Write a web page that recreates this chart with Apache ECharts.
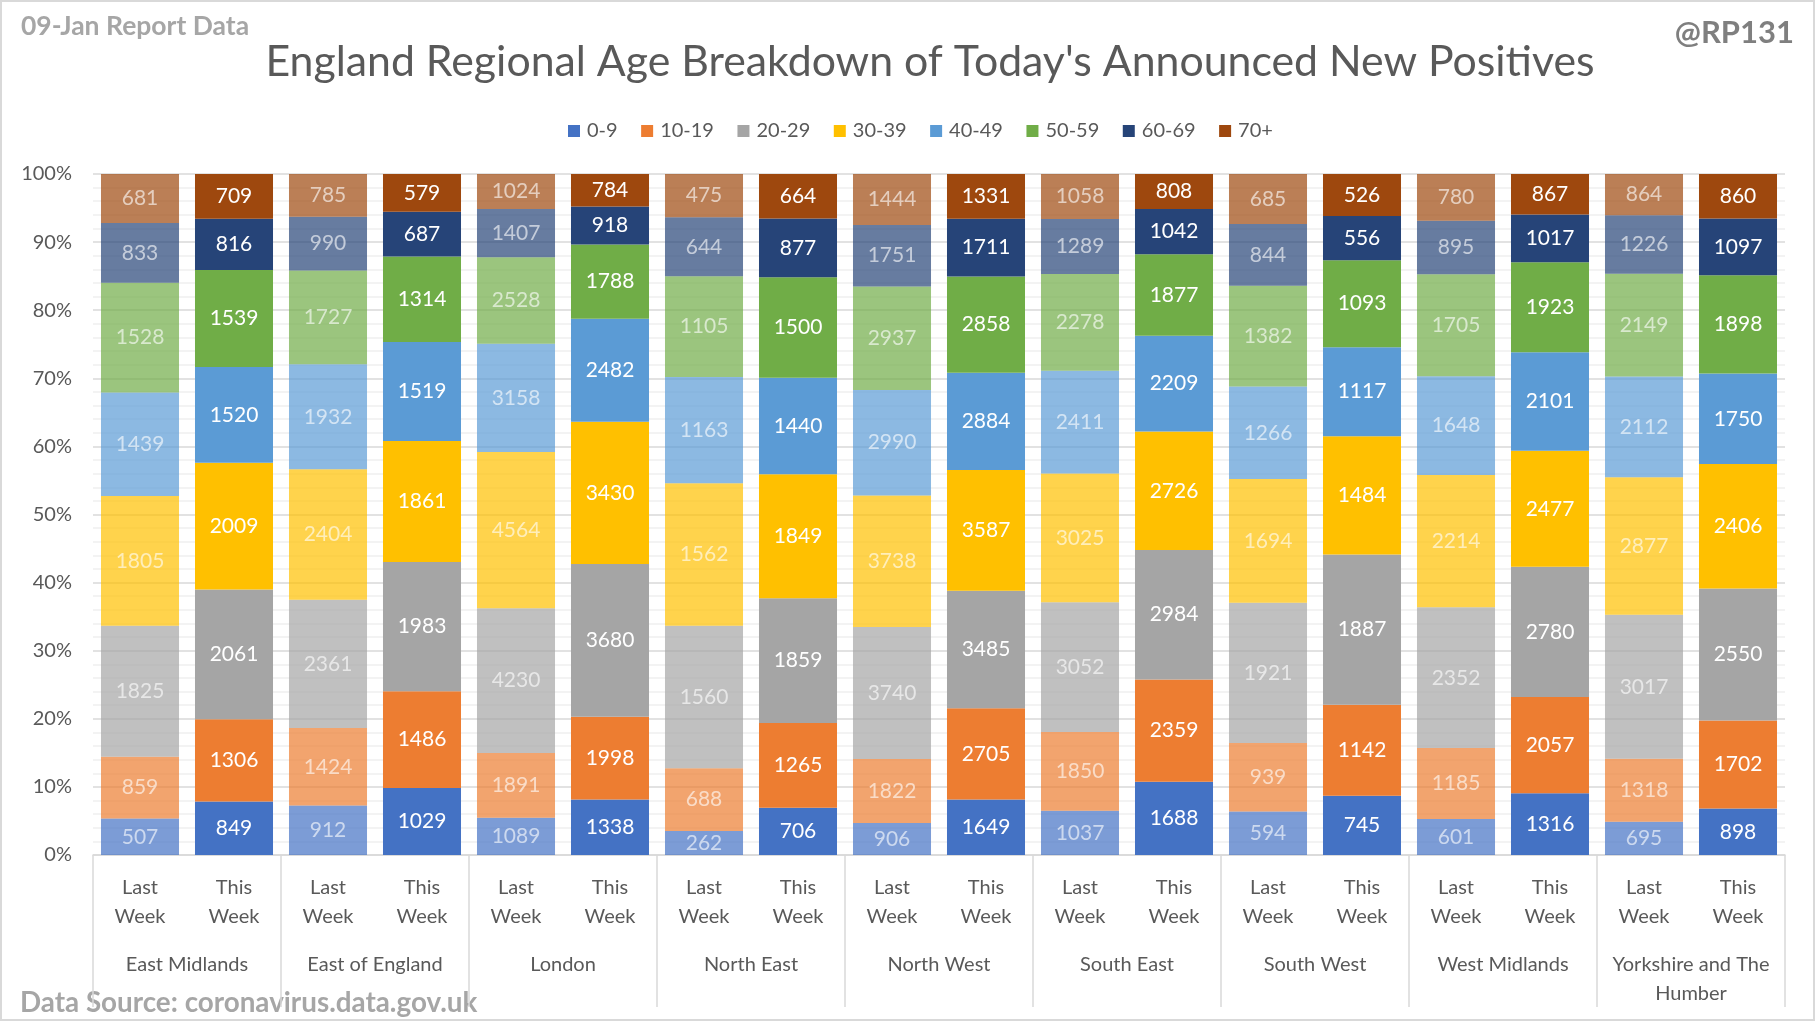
<!DOCTYPE html>
<html>
<head>
<meta charset="utf-8">
<script src="https://cdn.jsdelivr.net/npm/echarts@6/dist/echarts.min.js"></script>
<style>
html,body{margin:0;padding:0;background:#fff;}
#chart{width:1816px;height:1022px;}
</style>
</head>
<body>
<div id="chart"></div>
<script>
// Bars in order: each region, Last Week then This Week
const regions = ['East Midlands','East of England','London','North East','North West','South East','South West','West Midlands','Yorkshire and The\nHumber'];
const weeks = ['Last\nWeek','This\nWeek'];
const ageGroups = ['0-9','10-19','20-29','30-39','40-49','50-59','60-69','70+'];
const colors = ['#4472C4','#ED7D31','#A5A5A5','#FFC000','#5B9BD5','#70AD47','#264478','#9E480E'];

const age0_9   = [507, 849, 912, 1029, 1089, 1338, 262, 706, 906, 1649, 1037, 1688, 594, 745, 601, 1316, 695, 898];
const age10_19 = [859, 1306, 1424, 1486, 1891, 1998, 688, 1265, 1822, 2705, 1850, 2359, 939, 1142, 1185, 2057, 1318, 1702];
const age20_29 = [1825, 2061, 2361, 1983, 4230, 3680, 1560, 1859, 3740, 3485, 3052, 2984, 1921, 1887, 2352, 2780, 3017, 2550];
const age30_39 = [1805, 2009, 2404, 1861, 4564, 3430, 1562, 1849, 3738, 3587, 3025, 2726, 1694, 1484, 2214, 2477, 2877, 2406];
const age40_49 = [1439, 1520, 1932, 1519, 3158, 2482, 1163, 1440, 2990, 2884, 2411, 2209, 1266, 1117, 1648, 2101, 2112, 1750];
const age50_59 = [1528, 1539, 1727, 1314, 2528, 1788, 1105, 1500, 2937, 2858, 2278, 1877, 1382, 1093, 1705, 1923, 2149, 1898];
const age60_69 = [833, 816, 990, 687, 1407, 918, 644, 877, 1751, 1711, 1289, 1042, 844, 556, 895, 1017, 1226, 1097];
const age70p   = [681, 709, 785, 579, 1024, 784, 475, 664, 1444, 1331, 1058, 808, 685, 526, 780, 867, 864, 860];

const yTicks = [0,10,20,30,40,50,60,70,80,90,100];

const raw = [age0_9, age10_19, age20_29, age30_39, age40_49, age50_59, age60_69, age70p];
const barLabels = [];
regions.forEach(() => weeks.forEach(w => barLabels.push(w)));
const totals = barLabels.map((_, i) => raw.reduce((s, a) => s + a[i], 0));

const FONT = 'Lato';
const series = raw.map((arr, si) => ({
  name: ageGroups[si],
  type: 'bar',
  stack: 'total',
  barCategoryGap: '17%',
  itemStyle: { color: colors[si] },
  label: {
    show: true, position: 'inside', fontFamily: FONT, fontSize: 21, color: '#ffffff',
    formatter: p => String(arr[p.dataIndex])
  },
  emphasis: { disabled: true },
  data: arr.map((v, i) => {
    const isLast = i % 2 === 0;
    const d = { value: v / totals[i] * 100 };
    if (isLast) {
      d.itemStyle = { opacity: 0.7 };
      d.label = { color: 'rgba(255,255,255,0.88)' };
    }
    return d;
  })
}));

const chart = echarts.init(document.getElementById('chart'), null, { renderer: 'canvas' });
chart.setOption({
  animation: false,
  backgroundColor: '#ffffff',
  textStyle: { fontFamily: FONT },
  legend: {
    top: 116, left: 563, itemWidth: 12, itemHeight: 12, itemGap: 23.5, icon: 'rect',
    textStyle: { fontFamily: FONT, fontSize: 20, color: '#595959', padding: [0,0,0,2] },
    data: ageGroups
  },
  grid: { left: 93, right: 31, top: 174, bottom: 167, containLabel: false },
  xAxis: [
    {
      type: 'category', data: barLabels, position: 'bottom',
      axisLine: { show: true, lineStyle: { color: '#d9d9d9', width: 1.5 } },
      axisTick: { show: false },
      axisLabel: { interval: 0, margin: 18, fontFamily: FONT, fontSize: 20, lineHeight: 29, color: '#595959' }
    },
    {
      type: 'category', data: regions, position: 'bottom', offset: 0,
      axisLine: { show: false },
      axisTick: { show: true, length: 152, interval: 0, lineStyle: { color: '#d9d9d9', width: 1.5 } },
      axisLabel: { interval: 0, margin: 95, fontFamily: FONT, fontSize: 20, lineHeight: 29, color: '#595959' }
    }
  ],
  yAxis: {
    type: 'value', min: yTicks[0], max: yTicks[yTicks.length - 1], interval: 10,
    axisLine: { show: false }, axisTick: { show: false },
    axisLabel: { formatter: '{value}%', fontFamily: FONT, fontSize: 20, color: '#595959', margin: 21 },
    splitLine: { show: true, lineStyle: { color: '#d9d9d9', width: 1.5 } },
    minorTick: { show: false, splitNumber: 5 },
    minorSplitLine: { show: true, lineStyle: { color: '#f0f0f0', width: 1.5 } }
  },
  series: series,
  graphic: [
    { type: 'rect', silent: true, shape: { x: 1, y: 1, width: 1813, height: 1019 },
      style: { fill: 'none', stroke: '#d9d9d9', lineWidth: 2 }, z: 100 },
    { type: 'text', x: 930, y: 62, style: { text: "England Regional Age Breakdown of Today's Announced New Positives",
      fill: '#595959', font: '42.8px Lato', textAlign: 'center', textVerticalAlign: 'middle', align: 'center', verticalAlign: 'middle' } },
    { type: 'text', x: 21, y: 26, style: { text: '09-Jan Report Data',
      fill: '#a6a6a6', font: 'bold 26.5px Lato', textAlign: 'left', textVerticalAlign: 'middle', align: 'left', verticalAlign: 'middle' } },
    { type: 'text', x: 1794, y: 33, style: { text: '@RP131',
      fill: '#7f7f7f', font: 'bold 31px Lato', textAlign: 'right', textVerticalAlign: 'middle', align: 'right', verticalAlign: 'middle' } },
    { type: 'text', x: 20, y: 1003, style: { text: 'Data Source: coronavirus.data.gov.uk',
      fill: '#a6a6a6', font: 'bold 27.8px Lato', textAlign: 'left', textVerticalAlign: 'middle', align: 'left', verticalAlign: 'middle' } }
  ]
});
</script>
</body>
</html>
